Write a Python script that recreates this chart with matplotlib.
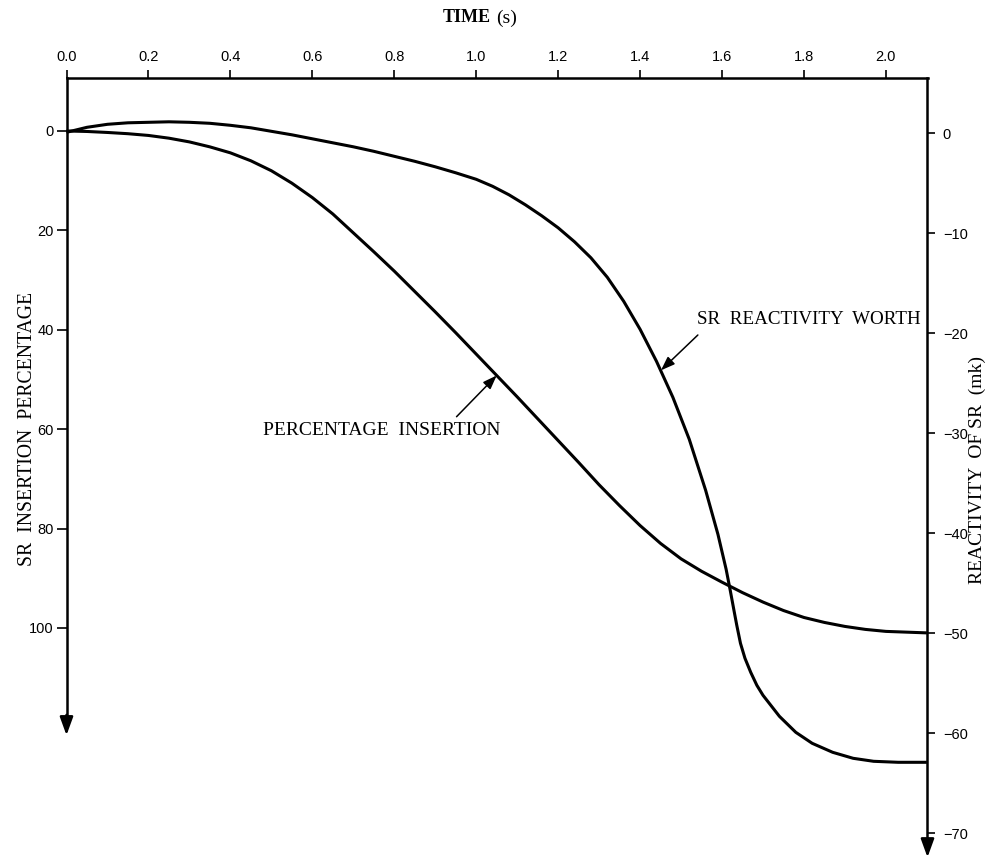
import matplotlib
matplotlib.use("Agg")
import matplotlib.pyplot as plt

# Shutoff-rod (SR) insertion versus time
insertion_time = [0.00, 0.05, 0.10, 0.15, 0.20, 0.25, 0.30, 0.35, 0.40, 0.45,
                  0.50, 0.55, 0.60, 0.65, 0.70, 0.75, 0.80, 0.85, 0.90, 0.95,
                  1.00, 1.05, 1.10, 1.15, 1.20, 1.25, 1.30, 1.35, 1.40, 1.45,
                  1.50, 1.55, 1.60, 1.65, 1.70, 1.75, 1.80, 1.85, 1.90, 1.95,
                  2.00, 2.10]
insertion_pct = [0.0, 0.1, 0.3, 0.55, 0.9, 1.45, 2.2, 3.2, 4.4, 6.0,
                 8.0, 10.5, 13.4, 16.7, 20.5, 24.3, 28.2, 32.3, 36.4, 40.6,
                 44.9, 49.2, 53.5, 57.9, 62.3, 66.7, 71.2, 75.4, 79.4, 83.0,
                 86.1, 88.6, 90.8, 92.9, 94.8, 96.5, 97.9, 98.9, 99.7, 100.3,
                 100.7, 101.0]

# SR reactivity worth (mk) versus time
worth_time = [0.00, 0.05, 0.10, 0.15, 0.20, 0.25, 0.30, 0.35, 0.40, 0.45,
              0.50, 0.55, 0.60, 0.65, 0.70, 0.75, 0.80, 0.85, 0.90, 0.95,
              1.00, 1.04, 1.08, 1.12, 1.16, 1.20, 1.24, 1.28, 1.32, 1.36,
              1.40, 1.44, 1.48, 1.52, 1.56, 1.59, 1.61, 1.62, 1.63, 1.636,
              1.645, 1.656, 1.67, 1.685, 1.70, 1.74, 1.78, 1.82, 1.87, 1.92,
              1.97, 2.03, 2.10]
worth_mk = [0.1, 0.6, 0.9, 1.05, 1.1, 1.15, 1.1, 1.0, 0.8, 0.55,
            0.2, -0.15, -0.55, -0.95, -1.35, -1.8, -2.3, -2.8, -3.35, -3.95,
            -4.6, -5.3, -6.15, -7.15, -8.25, -9.45, -10.85, -12.45, -14.4, -16.8,
            -19.6, -22.8, -26.4, -30.6, -35.7, -40.1, -43.6, -45.7, -47.9, -49.2,
            -51.0, -52.5, -53.9, -55.2, -56.2, -58.3, -59.9, -61.0, -61.9, -62.5,
            -62.8, -62.9, -62.9]

time_ticks = [0.0, 0.2, 0.4, 0.6, 0.8, 1.0, 1.2, 1.4, 1.6, 1.8, 2.0]
time_labels = ["0.0", "0.2", "0.4", "0.6", "0.8", "1.0", "1.2", "1.4", "1.6", "1.8", "2.0"]
pct_ticks = [0, 20, 40, 60, 80, 100]
mk_ticks = [0, -10, -20, -30, -40, -50, -60, -70]

SERIF = "Liberation Serif"
SANS = "Liberation Sans"

W, H = 988, 861
fig = plt.figure(figsize=(W / 100, H / 100), dpi=100)
fig.patch.set_facecolor("white")

# axes frame in pixels: left 66.5, right 927.5, top 78, bottom 858
left_px, right_px, top_px, bot_px = 66.5, 927.5, 78.0, 858.0
ax = fig.add_axes([left_px / W, 1 - bot_px / H,
                   (right_px - left_px) / W, (bot_px - top_px) / H])
ax.set_facecolor("none")

ax.set_xlim(0.0, 2.1015)
ax.set_ylim(146.3, -10.66)

LW_AX = 1.8
CURVE = dict(color="black", lw=2.2, solid_capstyle="butt",
             solid_joinstyle="round", clip_on=False, zorder=3)
ax.plot(insertion_time, insertion_pct, **CURVE)

# top time axis
ax.xaxis.tick_top()
ax.set_xticks(time_ticks)
ax.set_xticklabels(time_labels, fontfamily=SANS, fontsize=10.5)
ax.tick_params(axis="x", direction="out", length=6, width=1.2, pad=4)

# left insertion axis
ax.set_yticks(pct_ticks)
ax.set_yticklabels([str(v) for v in pct_ticks], fontfamily=SANS, fontsize=10.5)
ax.tick_params(axis="y", direction="out", length=7, width=1.2, pad=2)

for side in ("right", "bottom"):
    ax.spines[side].set_visible(False)
for side in ("top", "left"):
    ax.spines[side].set_linewidth(LW_AX)
ax.spines["left"].set_bounds(-10.66, 118.0)

# right reactivity axis
ax2 = ax.twinx()
ax2.set_ylim(-72.47, 5.53)
ax2.plot(worth_time, worth_mk, **CURVE)
for side in ("top", "left", "bottom"):
    ax2.spines[side].set_visible(False)
ax2.spines["right"].set_linewidth(LW_AX)
ax2.spines["right"].set_bounds(-70.5, 5.53)
ax2.set_yticks(mk_ticks)
ax2.set_yticklabels(["\u2212%d" % -v if v else "0" for v in mk_ticks],
                    fontfamily=SANS, fontsize=10.5)
ax2.tick_params(axis="y", direction="out", length=6, width=1.2, pad=5)

# arrowheads at the ends of the vertical axes
head = dict(arrowstyle="-|>,head_length=0.55,head_width=0.2", color="black",
            lw=LW_AX, mutation_scale=20, shrinkA=0, shrinkB=0)
ax.annotate("", xy=(0, 121.6), xytext=(0, 117.5),
            xycoords=ax.get_yaxis_transform(), textcoords=ax.get_yaxis_transform(),
            arrowprops=head, annotation_clip=False)
ax2.annotate("", xy=(1, -72.4), xytext=(1, -70.6),
             xycoords=ax2.get_yaxis_transform(), textcoords=ax2.get_yaxis_transform(),
             arrowprops=head, annotation_clip=False)

# curve labels with pointers
pointer = dict(arrowstyle="-|>,head_length=0.6,head_width=0.22", color="black",
               lw=1.1, mutation_scale=14, shrinkA=0, shrinkB=0)
ax.text(0.770, 60.2, "PERCENTAGE  INSERTION", fontfamily=SERIF, fontsize=14,
        ha="center", va="center")
ax.annotate("", xy=(1.05, 49.2), xytext=(0.952, 57.5), arrowprops=pointer)

ax2.text(1.811, -18.57, "SR  REACTIVITY  WORTH", fontfamily=SERIF, fontsize=13.7,
         ha="center", va="center")
ax2.annotate("", xy=(1.451, -23.7), xytext=(1.541, -20.17), arrowprops=pointer)

# axis titles
fig.text(466.5 / W, 1 - 18 / H, "TIME", fontfamily=SERIF, fontsize=13,
         fontweight="bold", ha="center", va="center")
fig.text(506.5 / W, 1 - 18 / H, "(s)", fontfamily=SERIF, fontsize=14,
         ha="center", va="center")
fig.text(28 / W, 1 - 429 / H, "SR  INSERTION  PERCENTAGE", fontfamily=SERIF,
         fontsize=14.2, rotation=90, ha="center", va="center")
fig.text(977 / W, 1 - 470 / H, "REACTIVITY  OF SR  (mk)", fontfamily=SERIF,
         fontsize=14, rotation=90, ha="center", va="center")

fig.savefig("out.png", dpi=100, facecolor="white")
